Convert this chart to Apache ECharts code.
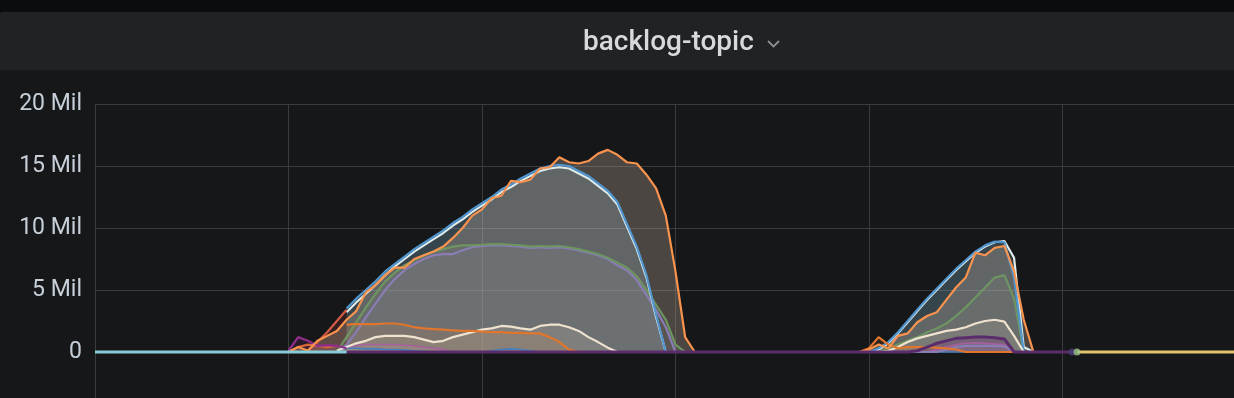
<!DOCTYPE html>
<html><head><meta charset="utf-8">
<script src="https://cdn.jsdelivr.net/npm/echarts@6/dist/echarts.min.js"></script>
<style>html,body{margin:0;padding:0;background:#161719;overflow:hidden}#c{width:1234px;height:398px;}</style>
</head><body><div id="c"></div>
<script>
// ---------- data (values in millions) ----------
const panelTitle = 'backlog-topic';
const yTickValues = [0, 5, 10, 15, 20];
const yTickLabels = ['0', '5 Mil', '10 Mil', '15 Mil', '20 Mil'];
const sampleStepMin = 3;           // one sample every 3 minutes
const Z = n => Array(n).fill(0);
const N = n => Array(n).fill(null);

const blueSeries = [...N(26),
  3.5,4.3,5.0,5.7,6.5,7.1,7.7,8.3,8.8,9.3,9.8,10.4,10.9,11.5,12.0,12.5,13.1,13.5,14.0,14.4,14.8,15.0,15.1,15.0,14.6,14.2,13.6,13.0,12.1,10.3,8.5,6.2,3.0,0,
  ...Z(20),
  0,0.3,0.8,1.6,2.5,3.4,4.3,5.1,5.9,6.7,7.4,8.1,8.6,8.9,8.85,6.0,0,
  ...Z(4)];
const whiteSeries = [...N(26),
  3.2,4.0,4.7,5.4,6.2,6.9,7.5,8.1,8.6,9.1,9.6,10.2,10.7,11.3,11.8,12.3,12.9,13.3,13.8,14.2,14.6,14.8,14.9,14.8,14.4,14.0,13.4,12.8,11.9,10.1,8.3,6.0,2.8,0,
  ...Z(20),
  0,0.2,0.7,1.5,2.4,3.3,4.2,5.0,5.8,6.6,7.3,8.0,8.5,8.85,8.95,7.6,0.4,0,
  ...Z(3)];
const orangeSeries = [...N(20),
  0,0.4,0.1,0.9,1.3,1.7,
  2.6,3.3,4.8,5.4,6.2,6.8,6.8,7.5,7.8,8.1,8.5,9.2,10.0,11.0,11.5,12.4,12.6,13.8,13.7,13.9,14.8,14.9,15.7,15.3,15.2,15.4,16.0,16.3,15.9,15.3,15.2,14.3,13.2,11.0,6.5,1.2,
  0, ...Z(17),
  0.2,0.6,0.3,1.3,1.5,2.4,2.9,3.2,4.2,5.2,6.0,8.0,7.8,8.4,8.55,6.5,2.6,0,
  ...Z(3)];
const greenSeries = [...N(25), 0,
  1.2,2.4,3.6,4.7,5.7,6.4,7.0,7.4,7.8,8.1,8.3,8.5,8.6,8.6,8.65,8.7,8.7,8.65,8.6,8.5,8.55,8.5,8.55,8.45,8.3,8.1,7.9,7.6,7.2,6.8,6.1,5.0,3.8,2.6,0.6,0,
  ...Z(20),
  0.3,0.6,0.9,1.2,1.6,1.9,2.3,2.9,3.6,4.4,5.2,6.0,6.2,4.3,0,
  ...Z(4)];
const purpleSeries = [...N(25), 0,
  0.6,1.6,2.8,3.9,5.0,5.9,6.6,7.1,7.5,7.8,7.9,7.9,8.2,8.45,8.55,8.6,8.6,8.55,8.5,8.4,8.45,8.4,8.45,8.35,8.2,8.0,7.8,7.5,7.0,6.6,5.8,4.6,3.4,2.0,0,
  ...Z(27),
  0.2,0.4,0.5,0.5,0.5,0.5,0.45,0,
  ...Z(5)];
const creamSeries = [...N(25), 0.1,
  0.4,0.7,0.9,1.2,1.3,1.3,1.3,1.2,1.0,0.8,0.9,1.2,1.4,1.6,1.8,1.9,2.1,2.05,1.9,1.8,2.1,2.2,2.2,2.0,1.7,1.2,0.8,0.35,0,
  ...Z(27),
  0.1,0.4,0.8,1.1,1.3,1.5,1.7,1.8,2.0,2.3,2.5,2.6,2.45,1.3,0,
  ...Z(4)];
const darkOrangeSeries = [...N(26),
  2.2,2.25,2.25,2.25,2.3,2.3,2.2,2.0,1.9,1.85,1.8,1.75,1.7,1.7,1.65,1.6,1.6,1.55,1.55,1.5,1.5,1.2,0.8,0.2,0,
  ...Z(29),
  0.3,1.2,0.6,0.3,0.4,0.4,0.4,0.35,0.3,0.2,0,
  ...Z(10)];
const rustSeries = [...N(20), 0,0.4,0.6,0.5,0.4,0.5];
const redSeries = [...N(22), 0.1,0.8,1.6,2.5,3.4];
const earlyPurpleSeries = [...N(20), 0.1,1.2,0.9,0.5,0.55,0.5,0.3];
const pinkSeries = [...N(25), 0.1,
  0.4,0.5,0.6,0.6,0.6,0.6,0.55,0.5,0.4,0.3,0.2,0,
  ...Z(49),
  0.2,0.4,0.6,0.7,0.75,0.7,0.65,0.6,0,
  ...Z(5)];
const smallBlueSeries = [...N(25), 0.1,
  0.3,0.3,0.25,0.25,0.2,0.2,0.15,0.1,0.05,0,
  ...Z(5),
  0.1,0.2,0.25,0.2,0.1,0,
  ...Z(54)];
const baselineSeries = [...N(26), ...Z(59),
  0.1,0.4,0.7,0.9,1.1,1.15,1.2,1.2,1.15,1.05,0,
  ...Z(6)];
const tealSeries = Z(27);
const tailTimes = [304.5, 370];
const tailValues = [0, 0];
const endDotTime = 303;
const startDotTime = 304.5;

const times = Array.from({length: 102}, (_, i) => i * sampleStepMin);

// ---------- chart ----------
const toPairs = arr => arr.map((v, i) => [times[i], v]).filter(p => p[1] !== null);

const defs = [
  {d: smallBlueSeries, c: '#447EBC', f: 'rgba(68,126,188,0.12)', w: 1.6},
  {d: pinkSeries, c: '#A8609F', f: 'rgba(214,131,206,0.15)', w: 1.6},
  {d: purpleSeries, c: '#8A7DB5', f: 'rgba(140,125,185,0.10)', w: 2.2},
  {d: greenSeries, c: '#6E9462', f: 'rgba(145,160,130,0.10)', w: 2.2},
  {d: whiteSeries, c: '#DDEBEA', f: 'rgba(207,240,245,0.16)', w: 2.2},
  {d: blueSeries, c: '#5195CE', f: 'rgba(81,149,206,0.12)', w: 2.2},
  {d: creamSeries, c: '#EFE2CF', f: 'rgba(249,226,210,0.15)', w: 2.2},
  {d: darkOrangeSeries, c: '#E0752D', f: 'rgba(224,117,45,0.15)', w: 2.2},
  {d: rustSeries, c: '#D8683A', f: 'rgba(216,104,58,0.15)', w: 2.2},
  {d: redSeries, c: '#D45A48', f: 'rgba(226,77,66,0.15)', w: 2.2},
  {d: earlyPurpleSeries, c: '#8E2E8A', f: 'rgba(150,45,130,0.15)', w: 2.2},
  {d: orangeSeries, c: '#F9934E', f: 'rgba(200,180,160,0.30)', w: 2.2},
  {d: baselineSeries, c: '#5B2C6B', f: 'rgba(110,40,115,0.30)', w: 3},
  {d: tealSeries, c: '#86CDD5', f: null, w: 3}
];

const series = [];
defs.forEach((s, k) => {
  const data = toPairs(s.d);
  if (s.f) series.push({type: 'line', data, z: 1, showSymbol: false, silent: true,
    lineStyle: {width: 0, opacity: 0}, areaStyle: {color: s.f, opacity: 1}});
  series.push({type: 'line', data, z: 2 + (k >= 12 ? 1 : 0), showSymbol: false, silent: true,
    lineStyle: {color: s.c, width: s.w}});
});
series.push({type: 'line', z: 3, showSymbol: false, silent: true,
  data: tailTimes.map((t, i) => [t, tailValues[i]]), lineStyle: {color: '#E2C36B', width: 3}});
series.push({type: 'scatter', z: 4, symbolSize: 7, silent: true, data: [[endDotTime, 0]], itemStyle: {color: '#4E3F7A'}});
series.push({type: 'scatter', z: 4, symbolSize: 7, silent: true, data: [[startDotTime, 0]], itemStyle: {color: '#9AC48A'}});

const chart = echarts.init(document.getElementById('c'), null, {renderer: 'canvas'});
chart.setOption({
  backgroundColor: '#161719',
  animation: false,
  grid: {left: 95, right: -20, top: 104, bottom: -16, containLabel: false, outerBoundsMode: 'none'},
  xAxis: {type: 'value', min: 0, max: 359.4, interval: 60,
    axisLine: {show: false}, axisTick: {show: false}, axisLabel: {show: false},
    splitLine: {show: true, lineStyle: {color: '#3b3c40', width: 1}}},
  yAxis: {type: 'value', min: -5, max: 20, interval: 5,
    axisLine: {show: false}, axisTick: {show: false},
    axisLabel: {color: '#c7d0d9', fontSize: 23, fontFamily: 'Roboto', margin: 13, padding: [4, 0, 0, 0],
      formatter: v => { const k = yTickValues.indexOf(v); return k < 0 ? '' : yTickLabels[k]; }},
    splitLine: {show: true, lineStyle: {color: '#3b3c40', width: 1}}},
  graphic: [
    {type: 'rect', left: 0, top: 0, shape: {width: 1234, height: 12}, style: {fill: '#0b0c0e'}, silent: true},
    {type: 'rect', left: 0, top: 12, shape: {width: 1234, height: 58, r: [3, 0, 0, 0]}, style: {fill: '#202226'}, silent: true},
    {type: 'text', x: 583, y: 43, silent: true,
      style: {text: panelTitle, fill: '#d8d9da', font: '500 28px Roboto', verticalAlign: 'middle', align: 'left'}},
    {type: 'polyline', silent: true, shape: {points: [[768, 41], [773.5, 46.5], [779, 41]]},
      style: {stroke: '#8e8e8e', lineWidth: 1.8, fill: null}}
  ],
  series
});
</script>
</body></html>
